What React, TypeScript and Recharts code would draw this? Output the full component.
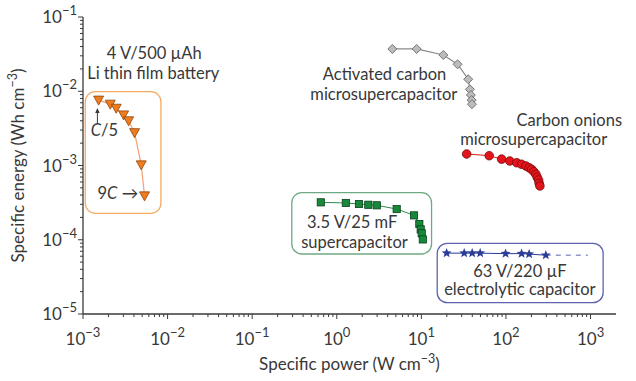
import React from "react";
import { ScatterChart, Scatter, XAxis, YAxis, ReferenceArea, ReferenceDot } from "recharts";

// —— data (W cm^-3 vs Wh cm^-3)
const batteryPower = [1.53e-3, 2.1e-3, 2.47e-3, 3.02e-3, 3.46e-3, 4.07e-3, 4.88e-3, 5.34e-3];
const batteryEnergy = [7.6e-3, 6.7e-3, 5.9e-3, 4.8e-3, 4.0e-3, 2.77e-3, 1.02e-3, 3.9e-4];

const activatedPower = [4.54, 8.8, 18.2, 26.8, 35.8, 37.5, 38.5, 39.3, 39.6];
const activatedEnergy = [0.0371, 0.0371, 0.0308, 0.0231, 0.0145, 0.0106, 0.0089, 0.0076, 0.0067];

const onionsPower = [34.3, 63.4, 88.9, 111, 134, 153, 172, 188, 201, 214, 226, 234, 243, 247, 252];
const onionsEnergy = [
  1.43e-3, 1.355e-3, 1.22e-3, 1.15e-3, 1.09e-3, 1.04e-3, 9.85e-4, 9.33e-4, 8.89e-4, 8.25e-4, 7.62e-4,
  6.94e-4, 6.38e-4, 5.76e-4, 5.3e-4,
];

const superPower = [0.647, 1.28, 1.83, 2.36, 2.97, 5.11, 8.19, 9.46, 9.82, 10.1, 10.4];
const superEnergy = [
  3.19e-4, 3.13e-4, 3.03e-4, 2.96e-4, 2.91e-4, 2.59e-4, 2.13e-4, 1.63e-4, 1.38e-4, 1.22e-4, 1.01e-4,
];

const electroPower = [19.9, 32.1, 39.9, 49.6, 99, 153, 188, 296];
const electroEnergy = [6.6e-5, 6.6e-5, 6.6e-5, 6.6e-5, 6.5e-5, 6.5e-5, 6.4e-5, 6.2e-5];
const electroExtPower = [296, 930];
const electroExtEnergy = [6.2e-5, 6.2e-5];

// axis decades
const xDecades = [1e-3, 1e-2, 1e-1, 1, 10, 100, 1000];
const yDecades = [1e-5, 1e-4, 1e-3, 1e-2, 1e-1];
const xDomain: [number, number] = [1e-3, 2000];
const yDomain: [number, number] = [1e-5, 1e-1];

const FONT = "Lato, 'Noto Sans', sans-serif";
const INK = "#383838";
const AXIS = "#3a3a3a";
const NOTE_SIZE = 16.5;

const zip = (xs: number[], ys: number[]) => xs.map((x, i) => ({ x, y: ys[i] }));

const withMinors = (decades: number[]) => {
  const out: number[] = [];
  decades.forEach((d, i) => {
    out.push(d);
    if (i < decades.length - 1) for (let k = 2; k <= 9; k++) out.push(k * d);
  });
  return out;
};

const isMajor = (v: number) => Math.abs(Math.log10(v) - Math.round(Math.log10(v))) < 1e-9;
const expOf = (v: number) => {
  const e = Math.round(Math.log10(v));
  return e < 0 ? `\u2212${-e}` : `${e}`;
};

function XTick({ x, y, payload }: any) {
  const major = isMajor(payload.value);
  return (
    <g>
      <line x1={x} x2={x} y1={y} y2={y + (major ? 5 : 3)} stroke={AXIS} strokeWidth={1} />
      {major ? (
        <text x={x} y={y + 31} textAnchor="middle" fill={INK} fontFamily={FONT} fontSize={17}>
          10
          <tspan dy={-8} fontSize={13}>
            {expOf(payload.value)}
          </tspan>
        </text>
      ) : null}
    </g>
  );
}

function YTick({ x, y, payload }: any) {
  const major = isMajor(payload.value);
  return (
    <g>
      <line x1={x} x2={x - (major ? 5 : 3)} y1={y} y2={y} stroke={AXIS} strokeWidth={1} />
      {major ? (
        <text x={x - 6} y={y + 6} textAnchor="end" fill={INK} fontFamily={FONT} fontSize={17}>
          10
          <tspan dy={-8} fontSize={13}>
            {expOf(payload.value)}
          </tspan>
        </text>
      ) : null}
    </g>
  );
}

// —— marker shapes
const TriDown = ({ cx, cy }: any) => (
  <path d={`M${cx - 5},${cy - 4}L${cx + 5},${cy - 4}L${cx},${cy + 5}Z`} fill="#f07c1c" stroke="#8a4510" strokeWidth={0.8} />
);
const Diamond = ({ cx, cy }: any) => (
  <path d={`M${cx},${cy - 4.5}L${cx + 4.5},${cy}L${cx},${cy + 4.5}L${cx - 4.5},${cy}Z`} fill="#bcbcbc" stroke="#6a6a6a" strokeWidth={0.9} />
);
const Dot = ({ cx, cy }: any) => <circle cx={cx} cy={cy} r={4.3} fill="#e3141c" stroke="#7a0a0a" strokeWidth={0.8} />;
const Square = ({ cx, cy }: any) => (
  <rect x={cx - 3.6} y={cy - 3.6} width={7.2} height={7.2} fill="#168a3a" stroke="#0b3f1b" strokeWidth={0.8} />
);
const Star = ({ cx, cy }: any) => {
  const pts: string[] = [];
  for (let i = 0; i < 10; i++) {
    const r = i % 2 === 0 ? 5.2 : 2.2;
    const a = -Math.PI / 2 + (i * Math.PI) / 5;
    pts.push(`${cx + r * Math.cos(a)},${cy + r * Math.sin(a)}`);
  }
  return <polygon points={pts.join(" ")} fill="#2b3c98" />;
};
const NoMark = () => <g />;

// —— rounded annotation boxes
const roundBox = (stroke: string) => (p: any) =>
  <rect x={p.x} y={p.y} width={p.width} height={p.height} rx={10} ry={10} fill="none" stroke={stroke} strokeWidth={1.3} />;

// —— text annotations
const label = (lines: React.ReactNode) => (p: any) =>
  (
    <text x={p.cx} y={p.cy} textAnchor="middle" fill={INK} fontFamily={FONT} fontSize={NOTE_SIZE}>
      {lines}
    </text>
  );

const UpArrow = (p: any) => (
  <g stroke={INK} fill={INK}>
    <line x1={p.cx} x2={p.cx} y1={p.cy} y2={p.cy - 12} strokeWidth={1} />
    <path d={`M${p.cx - 2.2},${p.cy - 10}L${p.cx + 2.2},${p.cy - 10}L${p.cx},${p.cy - 15}Z`} stroke="none" />
  </g>
);

function XTitle({ viewBox }: any) {
  const cx = viewBox.x + viewBox.width / 2;
  return (
    <text x={cx} y={viewBox.y + 56} textAnchor="middle" fill={INK} fontFamily={FONT} fontSize={17}>
      Specific power (W cm
      <tspan dy={-7} fontSize={12.5}>{"\u22123"}</tspan>
      <tspan dy={7}>)</tspan>
    </text>
  );
}

function YTitle({ viewBox }: any) {
  const cy = viewBox.y + viewBox.height / 2;
  const x = 24;
  return (
    <text x={x} y={cy} transform={`rotate(-90 ${x} ${cy})`} textAnchor="middle" fill={INK} fontFamily={FONT} fontSize={17}>
      Specific energy (Wh cm
      <tspan dy={-7} fontSize={12.5}>{"\u22123"}</tspan>
      <tspan dy={7}>)</tspan>
    </text>
  );
}

export default function App() {
  return (
    <div style={{ position: "absolute", left: 0, top: 0, background: "#fff" }}>
      <ScatterChart width={636} height={381} margin={{ top: 17, right: 20, bottom: 0, left: 0 }}>
        <XAxis
          dataKey="x"
          type="number"
          scale="log"
          domain={xDomain}
          allowDataOverflow
          ticks={withMinors(xDecades)}
          interval={0}
          tick={<XTick />}
          tickLine={false}
          tickSize={0}
          tickMargin={0}
          height={67}
          axisLine={{ stroke: AXIS, strokeWidth: 1.3 }}
          label={<XTitle />}
        />
        <YAxis
          dataKey="y"
          type="number"
          scale="log"
          domain={yDomain}
          allowDataOverflow
          ticks={withMinors(yDecades)}
          interval={0}
          tick={<YTick />}
          tickLine={false}
          tickSize={0}
          tickMargin={0}
          width={83}
          axisLine={{ stroke: AXIS, strokeWidth: 1.3 }}
          label={<YTitle />}
        />
        <XAxis
          xAxisId="top"
          orientation="top"
          type="number"
          scale="log"
          domain={xDomain}
          allowDataOverflow
          tick={false}
          tickLine={false}
          height={0}
          axisLine={{ stroke: AXIS, strokeWidth: 1.3 }}
        />
        <YAxis
          yAxisId="right"
          orientation="right"
          type="number"
          scale="log"
          domain={yDomain}
          allowDataOverflow
          tick={false}
          tickLine={false}
          width={0}
          axisLine={{ stroke: AXIS, strokeWidth: 1.3 }}
        />

        <ReferenceArea x1={1.064e-3} x2={8.34e-3} y1={2.27e-4} y2={9.86e-3} ifOverflow="visible" shape={roundBox("#f5aa62")} />
        <ReferenceArea x1={0.294} x2={13.2} y1={6.43e-5} y2={4.3e-4} ifOverflow="visible" shape={roundBox("#6fa983")} />
        <ReferenceArea x1={15.4} x2={1409} y1={1.42e-5} y2={8.95e-5} ifOverflow="visible" shape={roundBox("#5d63ad")} />

        <Scatter data={zip(batteryPower, batteryEnergy)} line={{ stroke: "#f4a070", strokeWidth: 1.2 }} shape={TriDown} isAnimationActive={false} />
        <Scatter data={zip(activatedPower, activatedEnergy)} line={{ stroke: "#8a8a8a", strokeWidth: 1.2 }} shape={Diamond} isAnimationActive={false} />
        <Scatter data={zip(onionsPower, onionsEnergy)} line={{ stroke: "#e3141c", strokeWidth: 1 }} shape={Dot} isAnimationActive={false} />
        <Scatter data={zip(superPower, superEnergy)} line={{ stroke: "#2f8a4e", strokeWidth: 1 }} shape={Square} isAnimationActive={false} />
        <Scatter data={zip(electroExtPower, electroExtEnergy)} line={{ stroke: "#5d63ad", strokeWidth: 1, strokeDasharray: "5 5" }} shape={NoMark} isAnimationActive={false} />
        <Scatter data={zip(electroPower, electroEnergy)} line={{ stroke: "#2b3c98", strokeWidth: 1 }} shape={Star} isAnimationActive={false} />

        <ReferenceDot x={6.95e-3} y={0.0272} r={0} shape={label("4 V/500 \u00b5Ah")} />
        <ReferenceDot x={6.77e-3} y={0.0146} r={0} shape={label("Li thin film battery")} />
        <ReferenceDot x={1.79e-3} y={2.49e-3} r={0} shape={label(<><tspan fontStyle="italic">C</tspan>/5</>)} />
        <ReferenceDot x={1.48e-3} y={3.73e-3} r={0} shape={UpArrow} />
        <ReferenceDot x={2.58e-3} y={3.51e-4} r={0} shape={label(<>9<tspan fontStyle="italic">C</tspan> {"\u2192"}</>)} />
        <ReferenceDot x={3.67} y={0.0142} r={0} shape={label("Activated carbon")} />
        <ReferenceDot x={3.6} y={7.62e-3} r={0} shape={label("microsupercapacitor")} />
        <ReferenceDot x={561} y={3.4e-3} r={0} shape={label("Carbon onions")} />
        <ReferenceDot x={213} y={1.89e-3} r={0} shape={label("microsupercapacitor")} />
        <ReferenceDot x={1.52} y={1.43e-4} r={0} shape={label("3.5 V/25 mF")} />
        <ReferenceDot x={1.62} y={7.67e-5} r={0} shape={label("supercapacitor")} />
        <ReferenceDot x={146} y={3.18e-5} r={0} shape={label("63 V/220 \u00b5F")} />
        <ReferenceDot x={146} y={1.8e-5} r={0} shape={label("electrolytic capacitor")} />
      </ScatterChart>
    </div>
  );
}
